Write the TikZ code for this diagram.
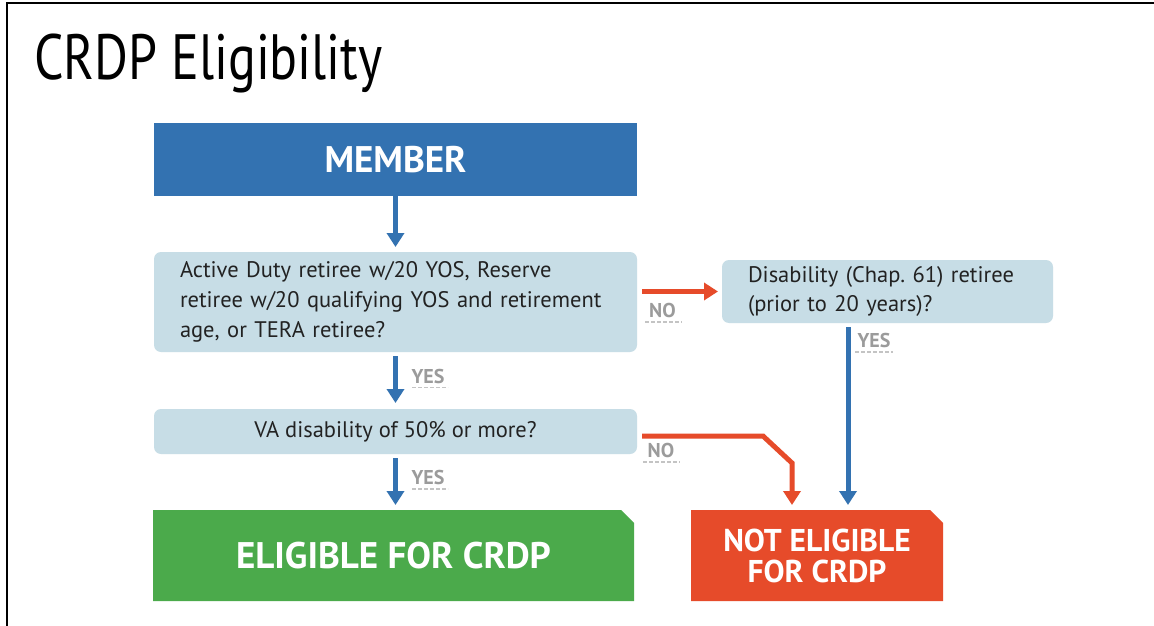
\documentclass[tikz,border=0pt]{standalone}
\usepackage{fontspec}
\setmainfont{PT Sans}
\newfontfamily\titlefont[FakeStretch=0.81]{PT Sans}
\usetikzlibrary{arrows.meta,backgrounds}
\definecolor{cblue}{HTML}{3372B1}
\definecolor{cq}{HTML}{C7DDE6}
\definecolor{cgreen}{HTML}{4BAA4B}
\definecolor{cred}{HTML}{E64B2A}
\definecolor{cgray}{HTML}{9B9B9B}
\definecolor{cline}{HTML}{C4C4C4}
\definecolor{ctext}{HTML}{222222}
\tikzset{
  box/.style={inner sep=0pt, outer sep=0pt},
  qbox/.style={box, fill=cq, rounded corners=7pt, text=ctext,
    font=\fontsize{22.5}{29.8}\selectfont},
  bigtext/.style={text=white, font=\fontsize{37}{31}\selectfont\bfseries},
  smalltext/.style={text=white, font=\fontsize{31.5}{31}\selectfont\bfseries},
  barrow/.style={draw=cblue, line width=5pt, -{Triangle[width=17pt,length=14pt]}},
  rarrow/.style={draw=cred, line width=5pt, -{Triangle[width=17pt,length=14pt]}},
  lbl/.style={inner sep=0pt, text=cgray, text depth=0pt, anchor=base,
    font=\fontsize{20}{20}\selectfont\bfseries},
  uline/.style={draw=cline, line width=1.5pt, dash pattern=on 4pt off 2pt},
}
\frenchspacing
\begin{document}
\begin{tikzpicture}[x=1pt,y=-1pt]
\useasboundingbox (0,0) rectangle (1154,626);
\draw[line width=1.5pt, black] (7,626) -- (7,3) -- (1154,3);

\node[anchor=base west, inner sep=0pt, font=\fontsize{64}{64}\selectfont\titlefont] (title) at (34,80) {CRDP Eligibility};

\node[box, fill=cblue, minimum width=483pt, minimum height=73pt, bigtext] (m) at (395.5,159.5) {MEMBER};

\node[qbox, minimum width=483pt, minimum height=100pt, text width=431pt, align=left] (q1) at (395.5,302)
  {Active Duty retiree w/20 YOS, Reserve\\retiree w/20 qualifying YOS and retirement\\age, or TERA retiree?};

\node[qbox, minimum width=483pt, minimum height=45pt, align=center] (q2) at (395.5,431.5) {VA disability of 50\% or more?};

\node[qbox, minimum width=331pt, minimum height=63pt, text width=279pt, align=left] (q3) at (887.5,291.5)
  {Disability (Chap. 61) retiree\\(prior to 20 years)?};

\node[box, minimum width=481pt, minimum height=91pt, bigtext] (el) at (393.5,555.5) {ELIGIBLE FOR CRDP};
\node[box, minimum width=252pt, minimum height=91pt, smalltext, align=center] (ne) at (817,555.5) {NOT ELIGIBLE\\FOR CRDP};

\begin{scope}[on background layer]
  \fill[white] (0,0) rectangle (1154,626);
  \fill[cgreen] (el.south west) -- (el.north west) -- ([xshift=-13pt]el.north east) -- ([yshift=-13pt]el.north east) -- (el.south east) -- cycle;
  \fill[cred] (ne.south west) -- (ne.north west) -- ([xshift=-13pt]ne.north east) -- ([yshift=-13pt]ne.north east) -- (ne.south east) -- cycle;
\end{scope}

% connectors
\draw[barrow, shorten >=5pt] (m.south) -- (q1.north);
\draw[barrow, shorten <=4pt, shorten >=6pt] (q1.south) -- (q2.north);
\draw[barrow, shorten <=4pt, shorten >=5pt] (q2.south) -- ([xshift=2pt]el.north);
\draw[rarrow, shorten <=5pt, shorten >=4pt] (q1.east |- q3.west) -- (q3.west);
\draw[barrow, shorten <=4pt, shorten >=5pt] ([xshift=-39.5pt]q3.south) -- ([xshift=31pt]ne.north);
\draw[rarrow, shorten <=5pt, shorten >=5pt] ([yshift=-4.5pt]q2.east) -- ++(126,0) -- ++(29,27) -- ([xshift=-25pt]ne.north);

% labels
\node[lbl] (y1) at (428,383) {YES};
\draw[uline] (412,387.5) -- (448,387.5);
\node[lbl] (y2) at (428,484) {YES};
\draw[uline] (412,489) -- (448,489);
\node[lbl] (n1) at (662.5,317) {NO};
\draw[uline] (645,322) -- (682,322);
\node[lbl] (y3) at (874,347) {YES};
\draw[uline] (855,352) -- (893,352);
\node[lbl] (n2) at (661,457) {NO};
\draw[uline] (643,462) -- (680,462);
\end{tikzpicture}
\end{document}
